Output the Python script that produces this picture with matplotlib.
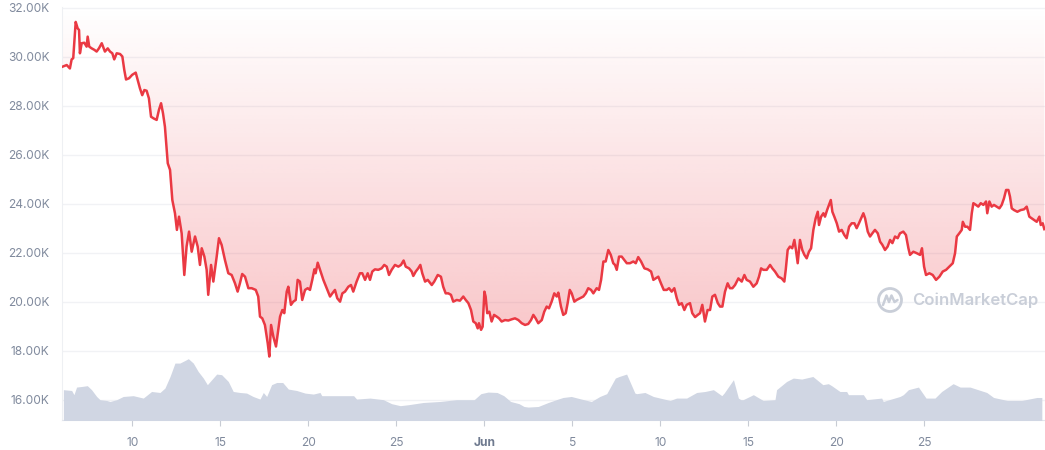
import numpy as np
import matplotlib
matplotlib.use("Agg")
import matplotlib.pyplot as plt
from matplotlib.patches import Circle
from matplotlib.lines import Line2D

# ---------------- data ----------------
# price: x in days since the left edge of the chart, price in thousands USD
days = [0.02,0.27,0.45,0.55,0.64,0.78,0.89,0.97,1.02,1.12,1.27,1.40,1.46,1.55,1.69,1.84,1.97,2.10,2.26,2.44,
        2.60,2.73,2.86,2.97,3.11,3.30,3.43,3.54,3.64,3.81,3.99,4.19,4.30,4.43,4.56,4.68,4.81,4.94,5.06,5.21,
        5.38,5.51,5.63,5.74,5.85,6.01,6.14,6.27,6.42,6.53,6.65,6.80,6.95,7.08,7.22,7.37,7.56,7.71,7.84,7.94,
        8.09,8.22,8.31,8.47,8.60,8.79,8.92,9.07,9.26,9.45,9.64,9.83,9.98,10.11,10.24,10.40,10.59,10.78,11.01,11.15,
        11.25,11.38,11.53,11.69,11.78,11.88,12.01,12.16,12.29,12.39,12.52,12.63,12.77,12.86,13.01,13.14,13.28,13.39,13.52,13.65,
        13.81,13.96,14.09,14.22,14.34,14.41,14.53,14.66,14.85,15.04,15.23,15.36,15.51,15.64,15.80,15.93,16.08,16.27,16.42,16.55,
        16.74,16.93,17.06,17.22,17.37,17.50,17.63,17.78,17.97,18.16,18.31,18.45,18.58,18.73,18.92,19.11,19.26,19.41,19.53,19.72,
        19.87,19.96,20.10,20.24,20.36,20.47,20.63,20.78,21.01,21.15,21.35,21.53,21.66,21.80,21.95,22.10,22.23,22.43,22.61,22.80,
        22.94,23.09,23.24,23.37,23.51,23.62,23.69,23.81,23.90,24.00,24.07,24.16,24.28,24.41,24.55,24.70,24.83,24.98,25.17,25.36,
        25.55,25.74,25.93,26.12,26.31,26.49,26.65,26.78,26.91,27.06,27.26,27.40,27.54,27.67,27.82,27.97,28.11,28.20,28.35,28.48,
        28.62,28.73,28.85,28.96,29.11,29.24,29.43,29.62,29.76,29.90,30.06,30.19,30.38,30.51,30.63,30.76,30.89,31.04,31.18,31.32,
        31.42,31.52,31.65,31.80,31.95,32.09,32.27,32.46,32.60,32.74,32.90,33.09,33.28,33.47,33.60,33.73,33.88,34.03,34.19,34.36,
        34.49,34.64,34.79,34.93,35.06,35.21,35.36,35.49,35.68,35.81,35.97,36.12,36.25,36.38,36.53,36.68,36.82,36.95,37.10,37.26,
        37.39,37.52,37.67,37.82,37.95,38.09,38.24,38.43,38.62,38.77,38.90,39.09,39.28,39.47,39.60,39.72,39.85,40.04,40.23,40.36,
        40.51,40.70,40.89,41.04,41.12,41.23,41.36,41.49,41.61,41.70,41.80,41.93,42.06,42.18,42.31,42.44,42.56,42.69,42.82,42.94,
        43.01,43.13,43.26,43.35,43.47,43.58,43.68,43.77,43.88,44.02,44.15,44.30,44.45,44.58,44.72,44.87,45.02,45.15,45.28,45.40,
        45.53,45.63,45.78,45.91,46.04,46.19,46.35,46.48,46.61,46.76,46.91,47.05,47.18,47.33,47.48,47.61,47.80,47.95,48.09,48.18,
        48.37,48.56,48.75,48.86,48.98,49.09,49.28,49.47,49.66,49.85,50.04,50.23,50.41,50.61,50.74,50.84,50.98,51.12,51.18,51.31,
        51.44,51.59,51.69,51.78,51.93,52.06,52.20,52.35,52.50,52.57,52.69,52.82,52.95,53.11,53.26,53.39,53.52,53.64,53.77,53.86,
        53.96,54.09,54.28,54.47,54.66,54.81,54.96,55.10,55.23,55.38,55.53,55.61,55.72,55.81]
price_k = [29.60,29.67,29.53,29.90,29.95,31.43,31.17,31.10,30.15,30.56,30.58,30.42,30.83,30.42,30.35,30.29,30.22,30.35,30.56,30.22,
           30.35,30.22,30.15,29.90,30.15,30.12,30.02,29.47,29.08,29.13,29.27,29.36,29.06,28.72,28.44,28.65,28.62,28.31,27.56,27.49,
           27.43,27.84,28.11,27.70,27.15,25.66,25.39,24.16,23.62,22.94,23.48,22.80,21.10,22.26,22.87,22.05,22.67,22.26,21.51,22.19,
           21.85,21.31,20.29,21.51,20.83,21.85,22.60,22.33,21.71,21.17,21.10,20.76,20.42,20.76,21.14,21.03,20.56,20.56,20.49,20.22,
           19.40,19.33,19.06,18.31,17.77,19.06,18.58,18.18,18.86,19.40,19.67,19.54,20.42,20.62,19.88,20.01,20.08,20.90,20.83,20.08,
           20.49,20.56,20.49,20.90,21.33,21.17,21.60,21.31,20.90,20.56,20.22,20.35,20.49,20.15,20.01,20.35,20.42,20.62,20.69,20.42,
           20.83,21.17,21.17,20.90,21.17,20.90,21.24,21.33,21.31,21.37,21.51,21.44,21.10,21.31,21.51,21.44,21.51,21.69,21.44,21.37,
           21.24,21.06,21.24,21.37,21.51,21.17,20.83,20.90,20.69,20.83,21.10,21.03,20.62,20.35,20.35,20.29,20.01,20.08,20.05,20.22,
           20.08,19.95,19.67,19.20,19.13,18.92,19.13,18.86,18.99,20.42,20.22,19.54,19.60,19.20,19.47,19.40,19.33,19.20,19.26,19.24,
           19.29,19.33,19.26,19.13,19.06,19.10,19.26,19.47,19.33,19.13,19.26,19.60,19.81,19.74,20.01,20.35,20.22,20.38,19.81,19.47,
           19.54,19.95,20.49,20.35,20.01,20.08,20.15,20.22,20.35,20.56,20.49,20.35,20.56,20.49,20.90,21.65,21.65,22.12,21.92,21.58,
           21.51,21.31,21.85,21.85,21.71,21.58,21.58,21.65,21.58,21.83,21.65,21.37,21.33,21.24,20.90,20.96,21.03,20.76,20.49,20.49,
           20.56,20.42,20.56,20.15,19.88,19.95,19.67,19.88,19.95,19.54,19.38,19.47,19.54,19.88,19.20,19.67,19.67,20.22,20.29,19.95,
           19.81,19.81,20.42,20.76,20.56,20.56,20.69,20.96,20.83,21.10,20.90,20.83,20.62,20.76,21.03,21.37,21.31,21.31,21.51,21.37,
           21.24,21.03,20.96,20.83,21.31,22.12,22.26,22.19,22.53,22.12,21.58,22.53,22.12,21.92,21.78,22.05,22.19,22.94,23.41,23.68,
           23.14,23.48,23.62,23.48,23.75,23.96,24.16,23.68,23.48,23.21,22.87,22.94,22.73,22.60,23.07,23.21,23.21,23.01,23.21,23.41,
           23.62,23.41,22.87,22.67,22.80,22.94,22.80,22.46,22.33,22.12,22.26,22.53,22.40,22.67,22.60,22.80,22.87,22.73,22.19,21.92,
           22.05,21.99,21.92,22.19,21.44,21.10,21.17,21.10,20.90,21.03,21.24,21.31,21.44,21.58,21.99,22.67,22.80,22.94,23.27,23.07,
           23.07,22.94,23.62,24.03,23.96,23.89,24.03,23.96,24.10,23.62,24.10,23.89,23.96,23.89,23.82,23.96,24.23,24.57,24.57,24.30,
           23.82,23.75,23.68,23.75,23.78,23.89,23.48,23.41,23.34,23.27,23.48,23.14,23.21,22.97]

# trading volume (arbitrary units, billions)
vol_days = [0.08,0.55,0.68,0.83,1.12,1.44,1.68,1.97,2.16,2.54,2.73,3.11,3.48,4.05,4.62,5.09,5.57,5.85,6.14,6.42,
            6.70,6.99,7.18,7.46,7.74,8.03,8.26,8.51,8.79,9.07,9.45,9.73,10.11,10.49,10.86,11.25,11.44,11.63,11.91,12.20,
            12.54,12.86,13.33,13.81,14.28,14.66,14.76,15.42,16.57,16.74,17.50,18.26,18.73,19.22,19.70,20.53,21.47,22.42,23.42,23.80,
            24.21,24.72,25.10,25.49,25.97,26.25,26.49,27.06,27.63,28.19,28.47,28.94,29.51,30.08,30.56,30.95,31.44,31.66,32.08,32.55,
            32.65,33.12,33.60,33.98,34.55,34.92,35.49,36.06,36.54,37.01,37.49,37.62,38.15,38.43,38.57,38.70,39.28,39.84,40.51,40.60,
            41.17,41.55,42.03,42.66,43.23,43.54,43.73,44.20,44.58,44.68,45.53,45.72,46.57,46.66,47.61,47.80,48.09,48.66,49.09,49.60,
            49.98,50.63,51.03,51.59,52.54,52.93,53.71,54.53,55.39,55.67]
volume_b = [15.4,15.0,12.9,16.7,17.0,17.4,15.4,12.0,10.4,10.0,9.5,10.4,12.0,12.4,11.2,14.5,14.0,16.2,22.0,28.7,
            28.7,30.0,30.9,28.7,24.5,21.2,17.9,20.4,23.2,22.9,19.5,14.5,14.0,13.7,12.0,10.7,14.0,12.0,17.9,19.0,
            19.0,15.7,15.0,13.7,13.2,14.0,12.4,12.4,12.4,10.7,11.2,10.4,8.4,7.4,7.9,9.0,9.5,10.4,10.4,13.4,
            14.2,14.0,12.4,9.5,8.4,7.0,6.7,7.0,9.0,10.7,11.5,12.0,10.7,9.5,12.0,13.4,21.2,22.0,23.2,13.7,
            13.4,14.0,12.0,11.2,10.0,11.2,11.2,14.0,14.5,15.4,12.4,13.7,20.4,11.2,10.4,10.4,12.9,10.0,10.4,15.4,
            19.5,21.2,20.7,22.0,17.9,18.4,17.4,14.5,14.5,12.9,12.9,10.4,11.2,9.5,12.0,12.9,15.4,16.7,11.2,11.2,
            14.5,18.4,16.7,16.7,14.0,11.5,10.0,10.0,11.5,11.5]

x_tick_days = [4, 9, 14, 19, 24, 29, 34, 39, 44, 49]
x_tick_labels = ["10", "15", "20", "25", "Jun", "5", "10", "15", "20", "25"]
y_ticks_k = [16, 18, 20, 22, 24, 26, 28, 30, 32]

# ---------------- style ----------------
plt.rcParams['font.family'] = ['Inter', 'DejaVu Sans']
RED = '#ea3943'
GRAY_TXT = '#808a9d'
VOL_C = '#d0d6e3'
WM_C = '#c9ced8'

fig = plt.figure(figsize=(10.45, 4.5), dpi=100)
ax = fig.add_axes([0.0593, 0.0656, 0.9407, 0.9178])

x = np.array(days)
p = np.array(price_k) * 1000.0
xmin, xmax = 0.0, 55.85
ymin, ymax = 15160, 32020
ax.set_xlim(xmin, xmax)
ax.set_ylim(ymin, ymax)

# gradient fill between line and top of chart
poly = ax.fill_between(x, p, ymax, facecolor='none', edgecolor='none')
n = 256
grad = np.zeros((n, 2, 4))
grad[:, :, 0] = 234 / 255
grad[:, :, 1] = 57 / 255
grad[:, :, 2] = 67 / 255
alpha = np.linspace(0.36, 0.0, n)  # bottom -> top (origin lower)
grad[:, :, 3] = alpha[:, None]
im = ax.imshow(grad, extent=[xmin, xmax, ymin, ymax], origin='lower', aspect='auto', zorder=1,
               interpolation='bilinear')
im.set_clip_path(poly.get_paths()[0], transform=ax.transData)

ax.plot(x, p, color=RED, lw=1.8, zorder=3, solid_joinstyle='round')

# grid
ax.set_yticks([v * 1000 for v in y_ticks_k])
ax.set_yticklabels([f"{v:.2f}K" for v in y_ticks_k])
ax.yaxis.grid(True, color='#f1f2f5', lw=1.0, zorder=0)
ax.set_axisbelow(True)
ax.tick_params(axis='y', length=0, pad=9, labelsize=8.6, labelcolor=GRAY_TXT)

ax.set_xticks(x_tick_days)
ax.set_xticklabels(x_tick_labels)
ax.tick_params(axis='x', length=4, width=0.8, color='#c8ccd4', pad=8, labelsize=8.6, labelcolor=GRAY_TXT)
for lbl in ax.get_xticklabels():
    if lbl.get_text() == 'Jun':
        lbl.set_fontweight('bold')
        lbl.set_color('#6f7a8f')

for s in ['top', 'right']:
    ax.spines[s].set_visible(False)
ax.spines['left'].set_color('#eef0f3')
ax.spines['bottom'].set_color('#e3e6ec')

# volume
ax2 = ax.twinx()
ax2.fill_between(vol_days, volume_b, 0, color=VOL_C, lw=0, zorder=1)
ax2.set_ylim(0, 206.5)
ax2.set_xlim(xmin, xmax)
ax2.axis('off')

# watermark (logo circle + wave, then the name)
cx, cy, r = 8.90, 1.50, 0.115  # inches
fig.add_artist(Circle((cx, cy), r, transform=fig.dpi_scale_trans, fill=False,
                      ec=WM_C, lw=2.0, zorder=5))
fig.add_artist(Line2D([cx - 0.07, cx - 0.035, cx - 0.01, cx + 0.015, cx + 0.045, cx + 0.075],
                      [cy - 0.05, cy + 0.045, cy - 0.02, cy + 0.045, cy - 0.02, cy + 0.0],
                      transform=fig.dpi_scale_trans, color=WM_C, lw=1.8, zorder=5,
                      solid_joinstyle='round', solid_capstyle='round'))
fig.text(0.8727, 0.333, "CoinMarketCap", fontsize=12, color=WM_C, fontweight='semibold',
         ha='left', va='center')

fig.savefig('out.png', dpi=100)
